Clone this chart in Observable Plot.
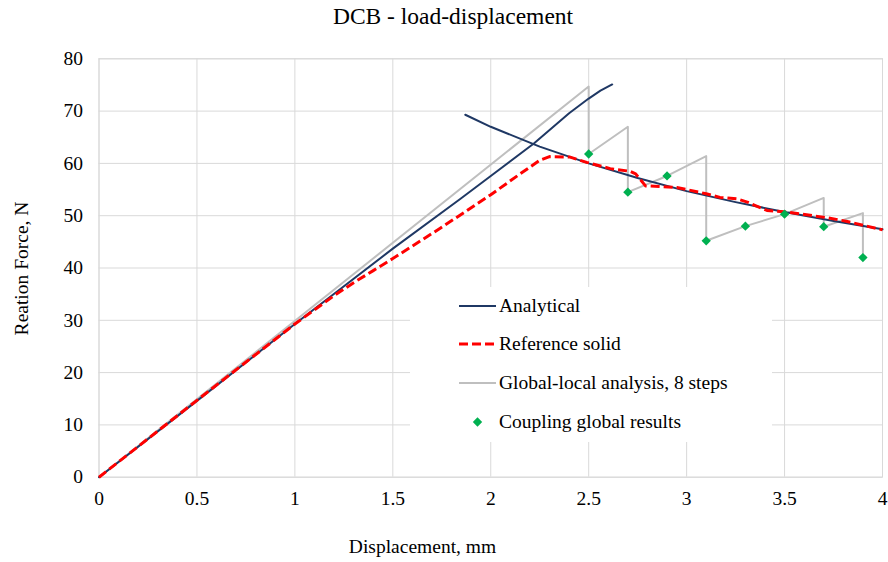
<!DOCTYPE html>
<html>
<head>
<meta charset="utf-8">
<script src="https://cdn.jsdelivr.net/npm/d3@7"></script>
<script src="https://cdn.jsdelivr.net/npm/@observablehq/plot@0.6"></script>
<style>
  html, body { margin: 0; padding: 0; background: #fff; }
  #wrap { position: relative; width: 888px; height: 562px; font-family: "Liberation Serif", "Times New Roman", serif; }
  #legend { position: absolute; left: 410px; top: 287px; width: 362px; height: 155px; background: #fff; }
  .item { position: absolute; left: 0; height: 24px; width: 362px; }
  .item svg { position: absolute; left: 49px; top: 0; }
  .item span { position: absolute; left: 89px; top: 0; font-size: 19.5px; white-space: nowrap; color: #000; line-height: 24px; }
</style>
</head>
<body>
<div id="wrap"></div>
<script>
// ---- data ----
const titleText = "DCB - load-displacement";
const xLabel = "Displacement, mm";
const yLabel = "Reation Force, N";

const xTicks = [0, 0.5, 1, 1.5, 2, 2.5, 3, 3.5, 4];
const yTicks = [0, 10, 20, 30, 40, 50, 60, 70, 80];

const seriesNames = ["Analytical", "Reference solid", "Global-local analysis, 8 steps", "Coupling global results"];

// Analytical: linear (elastic) branch and propagation branch
const analyticalRiseX = [0, 0.5, 1, 1.5, 1.844, 2, 2.22, 2.4, 2.5, 2.56, 2.62];
const analyticalRiseY = [0, 14.6, 29.3, 43.7, 53.2, 57.6, 63.8, 69.6, 72.4, 73.9, 75.1];
const analyticalDropX = [1.87, 2.0, 2.25, 2.5, 2.75, 3.0, 3.25, 3.5, 3.75, 4.0];
const analyticalDropY = [69.3, 67.0, 63.2, 60.0, 57.2, 54.7, 52.6, 50.7, 49.0, 47.4];

// Reference solid (red dashed)
const refX = [0, 0.5, 1, 1.1, 1.2, 1.3, 1.4, 1.5, 1.742, 2.0, 2.15, 2.25, 2.3, 2.405, 2.49, 2.61, 2.71, 2.74, 2.79, 2.86, 2.95, 3.10, 3.17, 3.26, 3.31, 3.41, 3.51, 3.72, 3.82, 4.0];
const refY = [0, 14.7, 29.3, 32.0, 34.7, 37.2, 39.5, 41.8, 47.6, 54.0, 58.0, 60.6, 61.3, 61.2, 60.2, 59.0, 58.5, 58.0, 55.7, 55.6, 55.4, 54.2, 53.5, 53.2, 52.6, 51.0, 50.7, 49.6, 48.9, 47.3];

// Global-local analysis, 8 steps (gray saw-tooth)
const globalX = [0, 2.5, 2.5, 2.7, 2.7, 2.9, 3.1, 3.1, 3.3, 3.5, 3.7, 3.7, 3.9, 3.9];
const globalY = [0, 74.7, 61.8, 67.0, 54.5, 57.6, 61.4, 45.2, 48.0, 50.3, 53.4, 47.9, 50.5, 42.0];

// Coupling global results (green diamonds)
const couplingX = [2.5, 2.7, 2.9, 3.1, 3.3, 3.5, 3.7, 3.9];
const couplingY = [61.8, 54.5, 57.6, 45.2, 48.0, 50.3, 47.9, 42.0];

const colors = { analytical: "#1f3864", reference: "#ff0000", global: "#bfbfbf", coupling: "#00b050", grid: "#d9d9d9" };

// ---- build tables ----
const zip = (xs, ys) => xs.map((x, i) => ({ x, y: ys[i] }));
const analyticalRise = zip(analyticalRiseX, analyticalRiseY);
const analyticalDrop = zip(analyticalDropX, analyticalDropY);
const reference = zip(refX, refY);
const globalLocal = zip(globalX, globalY);
const coupling = zip(couplingX, couplingY);

const W = 888, H = 562;
const mL = 98.5, mR = 6, mT = 58.3, mB = 85.3;
const frameCx = mL + (W - mL - mR) / 2;
const frameCy = mT + (H - mT - mB) / 2;

const chart = Plot.plot({
  width: W,
  height: H,
  marginLeft: mL,
  marginRight: mR,
  marginTop: mT,
  marginBottom: mB,
  style: { fontFamily: "Liberation Serif, Times New Roman, serif", fontSize: "19.5px", color: "#000", background: "#fff" },
  x: { domain: [0, 4] },
  y: { domain: [0, 80] },
  marks: [
    Plot.gridX(xTicks, { stroke: colors.grid, strokeOpacity: 1, strokeWidth: 1 }),
    Plot.gridY(yTicks, { stroke: colors.grid, strokeOpacity: 1, strokeWidth: 1 }),
    Plot.frame({ stroke: colors.grid, strokeWidth: 1 }),
    Plot.axisX({ ticks: xTicks, tickSize: 0, tickPadding: 14, tickFormat: d => String(d), fontSize: 19.5, label: null }),
    Plot.axisY({ ticks: yTicks, tickSize: 0, tickPadding: 16, tickFormat: d => String(d), fontSize: 19.5, label: null }),
    Plot.line(globalLocal, { x: "x", y: "y", stroke: colors.global, strokeWidth: 2 }),
    Plot.line(analyticalRise, { x: "x", y: "y", stroke: colors.analytical, strokeWidth: 2 }),
    Plot.line(analyticalDrop, { x: "x", y: "y", stroke: colors.analytical, strokeWidth: 2 }),
    Plot.line(reference, { x: "x", y: "y", stroke: colors.reference, strokeWidth: 3, strokeDasharray: "9,4", strokeLinecap: "butt" }),
    Plot.dot(coupling, { x: "x", y: "y", symbol: "diamond2", r: 4.2, fill: colors.coupling, stroke: "none" }),
    Plot.text([titleText], { frameAnchor: "top", lineAnchor: "middle", textAnchor: "middle", dx: 452.5 - frameCx, dy: 16 - mT, fontSize: 23.5, text: d => d, fill: "#000" }),
    Plot.text([xLabel], { frameAnchor: "bottom", lineAnchor: "middle", textAnchor: "middle", dx: 422 - frameCx, dy: 546 - (H - mB), fontSize: 19.5, text: d => d, fill: "#000" }),
    Plot.text([yLabel], { frameAnchor: "left", lineAnchor: "middle", textAnchor: "middle", rotate: -90, dx: 21 - mL, dy: 268 - frameCy, fontSize: 19.5, text: d => d, fill: "#000" })
  ]
});

const wrap = document.getElementById("wrap");
wrap.appendChild(chart);

// ---- legend overlay ----
const legend = document.createElement("div");
legend.id = "legend";
const rowsY = [19, 57, 96, 135];
const swatches = [
  `<svg width="37" height="24"><line x1="0" x2="37" y1="12" y2="12" stroke="${colors.analytical}" stroke-width="2"/></svg>`,
  `<svg width="37" height="24"><line x1="0" x2="37" y1="12" y2="12" stroke="${colors.reference}" stroke-width="3" stroke-dasharray="9,4"/></svg>`,
  `<svg width="37" height="24"><line x1="0" x2="37" y1="12" y2="12" stroke="${colors.global}" stroke-width="2"/></svg>`,
  `<svg width="37" height="24"><path d="M18.5,7.3L23.2,12L18.5,16.7L13.8,12Z" fill="${colors.coupling}"/></svg>`
];
seriesNames.forEach((name, i) => {
  const item = document.createElement("div");
  item.className = "item";
  item.style.top = (rowsY[i] - 12) + "px";
  item.innerHTML = swatches[i] + `<span>${name}</span>`;
  legend.appendChild(item);
});
wrap.appendChild(legend);
</script>
</body>
</html>
